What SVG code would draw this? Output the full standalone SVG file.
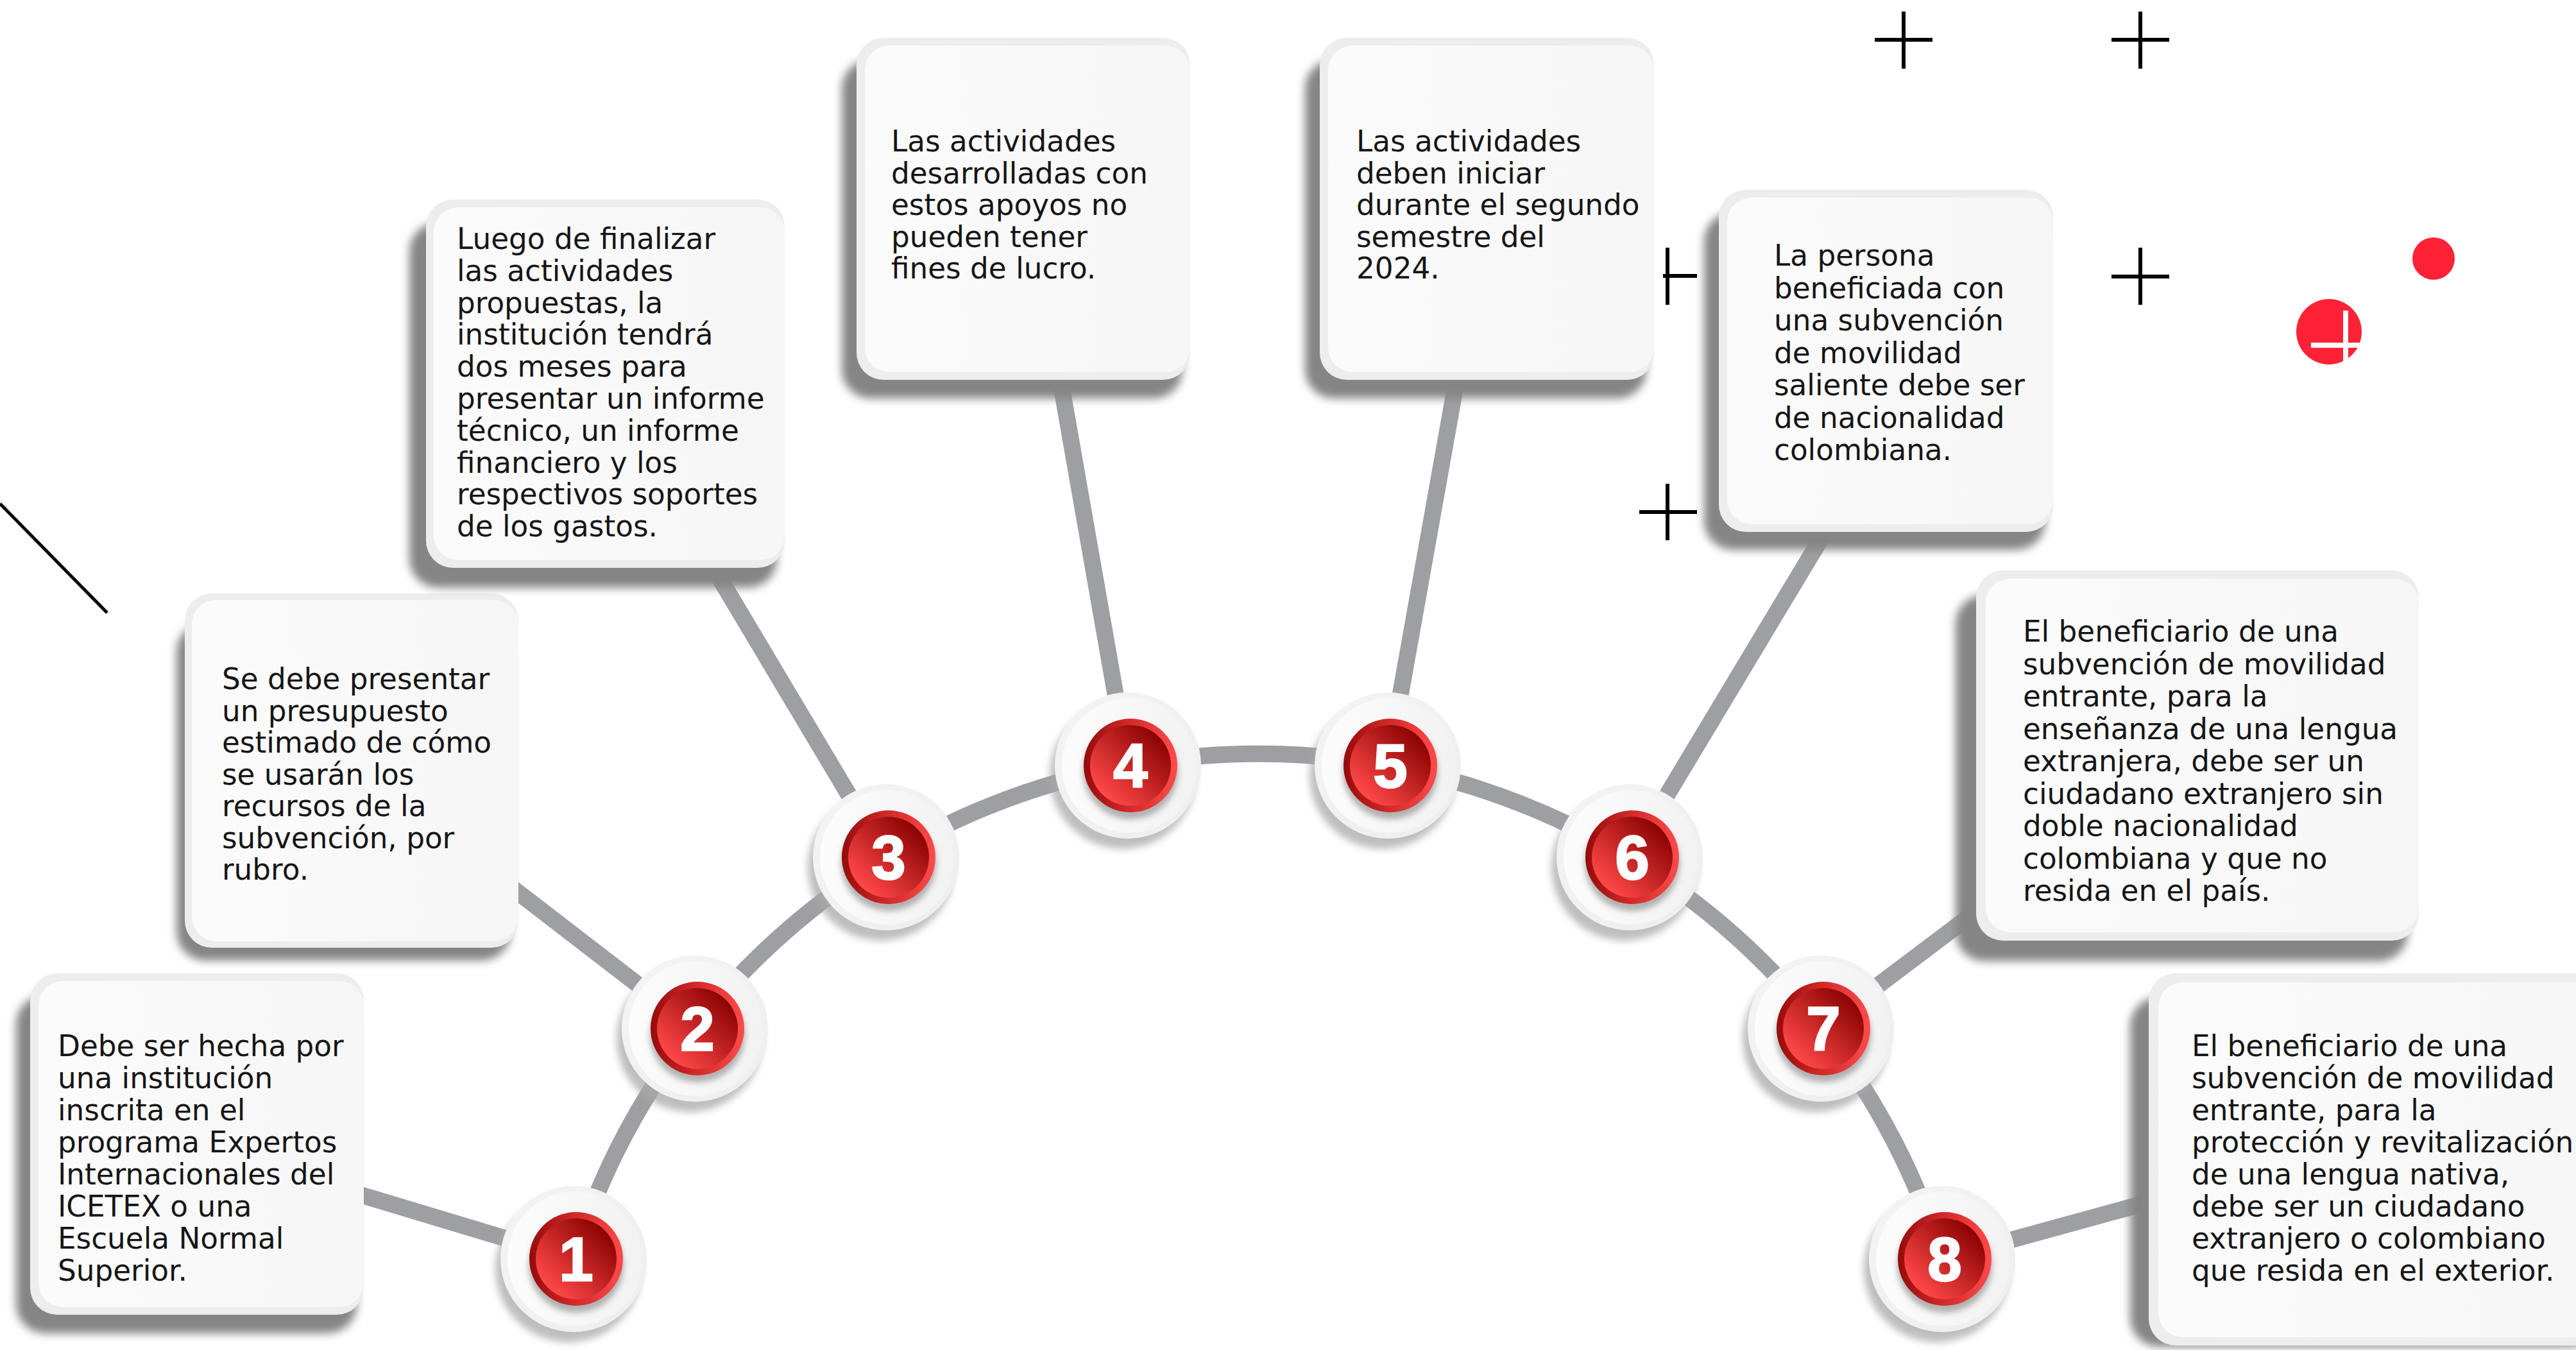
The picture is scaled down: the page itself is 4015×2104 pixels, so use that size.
<svg xmlns="http://www.w3.org/2000/svg" width="4015" height="2104" viewBox="0 0 4015 2104">
<style>
.txt{font-family:"DejaVu Sans","Liberation Sans",sans-serif;font-size:45.3px;fill:#151515}
.num{font-family:"Liberation Sans",Arial,sans-serif;font-weight:bold;font-size:96px;fill:#ffffff;stroke:#ffffff;stroke-width:2.5;text-anchor:middle}
.conn{fill:none;stroke:#9d9fa2;stroke-width:26}
.cross{stroke:#000000;stroke-width:6;fill:none}
.shadow{fill:#858585;filter:url(#blurS)}
.rim{fill:#ededed}
.face{fill:url(#faceG)}
.nshadow{fill:#a8a8a8;opacity:.75;filter:url(#blurN)}
.disc{fill:url(#discG)}
.discface{fill:url(#discF)}
.rshadow{fill:#777777;opacity:.55;filter:url(#blurR)}
.ring{fill:url(#ringG)}
.rface{fill:url(#rfaceG)}
</style>
<defs>
<filter id="blurS" x="-20%" y="-20%" width="140%" height="140%"><feGaussianBlur stdDeviation="7"/></filter>
<filter id="blurN" x="-30%" y="-30%" width="160%" height="160%"><feGaussianBlur stdDeviation="6"/></filter>
<filter id="blurR" x="-30%" y="-30%" width="160%" height="160%"><feGaussianBlur stdDeviation="5"/></filter>
<linearGradient id="faceG" x1="0" y1="0" x2="1" y2="0"><stop offset="0" stop-color="#fbfbfb"/><stop offset="1" stop-color="#f6f6f6"/></linearGradient>
<linearGradient id="discG" x1="0" y1="0" x2="1" y2="1"><stop offset="0" stop-color="#f4f4f4"/><stop offset="1" stop-color="#eeeeee"/></linearGradient>
<linearGradient id="discF" x1="0" y1="0" x2="1" y2="0"><stop offset="0" stop-color="#fcfcfc"/><stop offset="1" stop-color="#f2f2f2"/></linearGradient>
<linearGradient id="ringG" x1="0" y1="0" x2="1" y2="0"><stop offset="0" stop-color="#960b0b"/><stop offset="0.5" stop-color="#d42a2a"/><stop offset="1" stop-color="#ff4a4a"/></linearGradient>
<linearGradient id="rfaceG" x1="0.15" y1="0.85" x2="0.85" y2="0.15"><stop offset="0" stop-color="#ff4848"/><stop offset="1" stop-color="#8c0303"/></linearGradient>
</defs>
<rect width="4015" height="2104" fill="#ffffff"/>
<g id="decor">
<line x1="0" y1="785" x2="167" y2="955" stroke="#000" stroke-width="5"/>
<path class="cross" d="M2967 18V107M2922 62H3012"/>
<path class="cross" d="M3336 18V107M3291 62H3381"/>
<path class="cross" d="M3336 386V475M3291 431H3381"/>
<path class="cross" d="M2599 386V475M2592 430H2645"/>
<path class="cross" d="M2599 754V842M2555 798H2645"/>
<circle cx="3793" cy="403" r="33" fill="#ff2236"/>
<circle cx="3630" cy="517" r="51" fill="#ff2236"/>
<path d="M3656 484V600M3602 538H3700" stroke="#ffffff" stroke-width="8" fill="none"/>
</g>
<g id="connectors">
<path class="conn" d="M894 1962A1116 1116 0 0 1 3027 1962"/>
<line class="conn" x1="555" y1="1860" x2="894" y2="1962"/>
<line class="conn" x1="800" y1="1385" x2="1083" y2="1603"/>
<line class="conn" x1="1097" y1="860" x2="1381" y2="1336"/>
<line class="conn" x1="1647" y1="560" x2="1758" y2="1193"/>
<line class="conn" x1="2276" y1="560" x2="2163" y2="1193"/>
<line class="conn" x1="2862" y1="800" x2="2540" y2="1336"/>
<line class="conn" x1="3110" y1="1398" x2="2838" y2="1603"/>
<line class="conn" x1="3380" y1="1865" x2="3027" y2="1962"/>
</g>
<g id="card1">
<rect class="shadow" x="25" y="1551" width="531" height="527" rx="45"/>
<rect class="rim" x="47" y="1517" width="520" height="532" rx="42"/>
<rect class="face" x="60" y="1529" width="507" height="508" rx="38"/>
<text class="txt" x="90" y="1646"><tspan x="90">Debe ser hecha por</tspan><tspan x="90" dy="50">una institución</tspan><tspan x="90" dy="50">inscrita en el</tspan><tspan x="90" dy="50">programa Expertos</tspan><tspan x="90" dy="50">Internacionales del</tspan><tspan x="90" dy="50">ICETEX o una</tspan><tspan x="90" dy="50">Escuela Normal</tspan><tspan x="90" dy="50">Superior.</tspan></text>
</g>
<g id="card2">
<rect class="shadow" x="275" y="971" width="521" height="526" rx="45"/>
<rect class="rim" x="288" y="925" width="520" height="552" rx="42"/>
<rect class="face" x="299" y="935" width="509" height="532" rx="38"/>
<text class="txt" x="346" y="1074"><tspan x="346">Se debe presentar</tspan><tspan x="346" dy="49.5">un presupuesto</tspan><tspan x="346" dy="49.5">estimado de cómo</tspan><tspan x="346" dy="49.5">se usarán los</tspan><tspan x="346" dy="49.5">recursos de la</tspan><tspan x="346" dy="49.5">subvención, por</tspan><tspan x="346" dy="49.5">rubro.</tspan></text>
</g>
<g id="card3">
<rect class="shadow" x="638" y="347" width="573" height="569" rx="45"/>
<rect class="rim" x="664" y="311" width="559" height="574" rx="42"/>
<rect class="face" x="676" y="323" width="547" height="550" rx="38"/>
<text class="txt" x="712" y="388"><tspan x="712">Luego de finalizar</tspan><tspan x="712" dy="49.8">las actividades</tspan><tspan x="712" dy="49.8">propuestas, la</tspan><tspan x="712" dy="49.8">institución tendrá</tspan><tspan x="712" dy="49.8">dos meses para</tspan><tspan x="712" dy="49.8">presentar un informe</tspan><tspan x="712" dy="49.8">técnico, un informe</tspan><tspan x="712" dy="49.8">financiero y los</tspan><tspan x="712" dy="49.8">respectivos soportes</tspan><tspan x="712" dy="49.8">de los gastos.</tspan></text>
</g>
<g id="card4">
<rect class="shadow" x="1312" y="93" width="531" height="528" rx="45"/>
<rect class="rim" x="1335" y="59" width="520" height="533" rx="42"/>
<rect class="face" x="1348" y="71" width="507" height="509" rx="38"/>
<text class="txt" x="1389" y="236"><tspan x="1389">Las actividades</tspan><tspan x="1389" dy="49.5">desarrolladas con</tspan><tspan x="1389" dy="49.5">estos apoyos no</tspan><tspan x="1389" dy="49.5">pueden tener</tspan><tspan x="1389" dy="49.5">fines de lucro.</tspan></text>
</g>
<g id="card5">
<rect class="shadow" x="2034" y="93" width="532" height="528" rx="45"/>
<rect class="rim" x="2057" y="59" width="521" height="533" rx="42"/>
<rect class="face" x="2070" y="71" width="508" height="509" rx="38"/>
<text class="txt" x="2114" y="236"><tspan x="2114">Las actividades</tspan><tspan x="2114" dy="49.5">deben iniciar</tspan><tspan x="2114" dy="49.5">durante el segundo</tspan><tspan x="2114" dy="49.5">semestre del</tspan><tspan x="2114" dy="49.5">2024.</tspan></text>
</g>
<g id="card6">
<rect class="shadow" x="2656" y="331" width="532" height="526" rx="45"/>
<rect class="rim" x="2679" y="296" width="521" height="533" rx="42"/>
<rect class="face" x="2692" y="308" width="508" height="509" rx="38"/>
<text class="txt" x="2765" y="414"><tspan x="2765">La persona</tspan><tspan x="2765" dy="50.5">beneficiada con</tspan><tspan x="2765" dy="50.5">una subvención</tspan><tspan x="2765" dy="50.5">de movilidad</tspan><tspan x="2765" dy="50.5">saliente debe ser</tspan><tspan x="2765" dy="50.5">de nacionalidad</tspan><tspan x="2765" dy="50.5">colombiana.</tspan></text>
</g>
<g id="card7">
<rect class="shadow" x="3048" y="927" width="705" height="571" rx="45"/>
<rect class="rim" x="3080" y="889" width="690" height="577" rx="42"/>
<rect class="face" x="3095" y="902" width="675" height="551" rx="38"/>
<text class="txt" x="3153" y="1000"><tspan x="3153">El beneficiario de una</tspan><tspan x="3153" dy="50.5">subvención de movilidad</tspan><tspan x="3153" dy="50.5">entrante, para la</tspan><tspan x="3153" dy="50.5">enseñanza de una lengua</tspan><tspan x="3153" dy="50.5">extranjera, debe ser un</tspan><tspan x="3153" dy="50.5">ciudadano extranjero sin</tspan><tspan x="3153" dy="50.5">doble nacionalidad</tspan><tspan x="3153" dy="50.5">colombiana y que no</tspan><tspan x="3153" dy="50.5">resida en el país.</tspan></text>
</g>
<g id="card8">
<rect class="shadow" x="3320" y="1554" width="730" height="545" rx="45"/>
<rect class="rim" x="3349" y="1517" width="715" height="580" rx="42"/>
<rect class="face" x="3364" y="1531" width="700" height="553" rx="38"/>
<text class="txt" x="3416" y="1646"><tspan x="3416">El beneficiario de una</tspan><tspan x="3416" dy="50">subvención de movilidad</tspan><tspan x="3416" dy="50">entrante, para la</tspan><tspan x="3416" dy="50">protección y revitalización</tspan><tspan x="3416" dy="50">de una lengua nativa,</tspan><tspan x="3416" dy="50">debe ser un ciudadano</tspan><tspan x="3416" dy="50">extranjero o colombiano</tspan><tspan x="3416" dy="50">que resida en el exterior.</tspan></text>
</g>
<g id="node1">
<circle class="nshadow" cx="886" cy="1978" r="114"/>
<circle class="disc" cx="894" cy="1962" r="114"/>
<circle class="discface" cx="896" cy="1962" r="105"/>
<circle class="rshadow" cx="898" cy="1972" r="74"/>
<circle class="ring" cx="898" cy="1962" r="73"/>
<circle class="rface" cx="898" cy="1962" r="63"/>
<text class="num" x="898" y="1996">1</text>
</g>
<g id="node2">
<circle class="nshadow" cx="1075" cy="1619" r="114"/>
<circle class="disc" cx="1083" cy="1603" r="114"/>
<circle class="discface" cx="1085" cy="1603" r="105"/>
<circle class="rshadow" cx="1087" cy="1613" r="74"/>
<circle class="ring" cx="1087" cy="1603" r="73"/>
<circle class="rface" cx="1087" cy="1603" r="63"/>
<text class="num" x="1087" y="1637">2</text>
</g>
<g id="node3">
<circle class="nshadow" cx="1373" cy="1352" r="114"/>
<circle class="disc" cx="1381" cy="1336" r="114"/>
<circle class="discface" cx="1383" cy="1336" r="105"/>
<circle class="rshadow" cx="1385" cy="1346" r="74"/>
<circle class="ring" cx="1385" cy="1336" r="73"/>
<circle class="rface" cx="1385" cy="1336" r="63"/>
<text class="num" x="1385" y="1370">3</text>
</g>
<g id="node4">
<circle class="nshadow" cx="1750" cy="1209" r="114"/>
<circle class="disc" cx="1758" cy="1193" r="114"/>
<circle class="discface" cx="1760" cy="1193" r="105"/>
<circle class="rshadow" cx="1762" cy="1203" r="74"/>
<circle class="ring" cx="1762" cy="1193" r="73"/>
<circle class="rface" cx="1762" cy="1193" r="63"/>
<text class="num" x="1762" y="1227">4</text>
</g>
<g id="node5">
<circle class="nshadow" cx="2155" cy="1209" r="114"/>
<circle class="disc" cx="2163" cy="1193" r="114"/>
<circle class="discface" cx="2165" cy="1193" r="105"/>
<circle class="rshadow" cx="2167" cy="1203" r="74"/>
<circle class="ring" cx="2167" cy="1193" r="73"/>
<circle class="rface" cx="2167" cy="1193" r="63"/>
<text class="num" x="2167" y="1227">5</text>
</g>
<g id="node6">
<circle class="nshadow" cx="2532" cy="1352" r="114"/>
<circle class="disc" cx="2540" cy="1336" r="114"/>
<circle class="discface" cx="2542" cy="1336" r="105"/>
<circle class="rshadow" cx="2544" cy="1346" r="74"/>
<circle class="ring" cx="2544" cy="1336" r="73"/>
<circle class="rface" cx="2544" cy="1336" r="63"/>
<text class="num" x="2544" y="1370">6</text>
</g>
<g id="node7">
<circle class="nshadow" cx="2830" cy="1619" r="114"/>
<circle class="disc" cx="2838" cy="1603" r="114"/>
<circle class="discface" cx="2840" cy="1603" r="105"/>
<circle class="rshadow" cx="2842" cy="1613" r="74"/>
<circle class="ring" cx="2842" cy="1603" r="73"/>
<circle class="rface" cx="2842" cy="1603" r="63"/>
<text class="num" x="2842" y="1637">7</text>
</g>
<g id="node8">
<circle class="nshadow" cx="3019" cy="1978" r="114"/>
<circle class="disc" cx="3027" cy="1962" r="114"/>
<circle class="discface" cx="3029" cy="1962" r="105"/>
<circle class="rshadow" cx="3031" cy="1972" r="74"/>
<circle class="ring" cx="3031" cy="1962" r="73"/>
<circle class="rface" cx="3031" cy="1962" r="63"/>
<text class="num" x="3031" y="1996">8</text>
</g>
</svg>
